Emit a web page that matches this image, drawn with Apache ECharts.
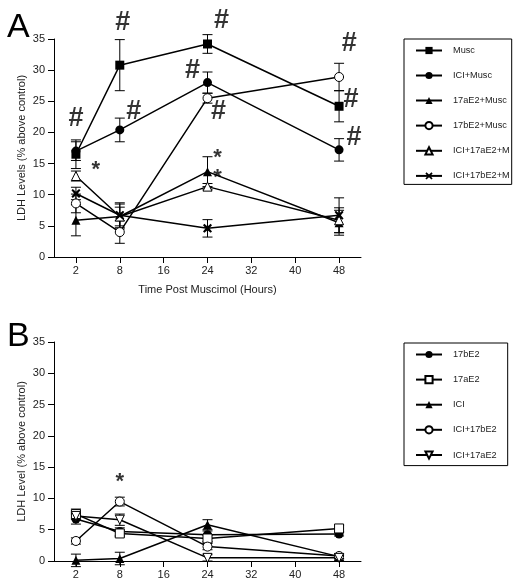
<!DOCTYPE html>
<html><head><meta charset="utf-8">
<script src="https://cdn.jsdelivr.net/npm/echarts@6/dist/echarts.min.js"></script>
<style>html,body{margin:0;padding:0;background:#fff}#c{width:525px;height:588px}</style>
</head><body><div id="c"></div>
<script>
// ---------- DATA ----------
const timeLabels = ['2', '8', '16', '24', '32', '40', '48'];   // x tick labels (evenly spaced)
const timesA = ['2', '8', '24', '48'];                          // sampled times

const namesA = ['Musc', 'ICI+Musc', '17aE2+Musc', '17bE2+Musc', 'ICI+17aE2+M', 'ICI+17bE2+M'];
const musc        = [16.5, 30.8, 34.2, 24.2];
const muscErr     = [2.3, 4.1, 1.5, 2.5];
const iciMusc     = [17.0, 20.4, 28.0, 17.2];
const iciMuscErr  = [1.5, 1.9, 1.7, 1.8];
const aE2Musc     = [5.9, 6.5, 13.7, 5.5];
const aE2MuscErr  = [2.5, 2.0, 2.4, 2.0];
const bE2Musc     = [8.6, 4.0, 25.5, 28.9];
const bE2MuscErr  = [1.5, 1.8, 0.8, 2.2];
const iciAE2M     = [13.0, 6.5, 11.3, 5.9];
const iciAE2MErr  = [0.8, 1.5, 0.5, 2.0];
const iciBE2M     = [10.2, 6.7, 4.6, 6.7];
const iciBE2MErr  = [1.0, 2.0, 1.4, 2.8];

const namesB = ['17bE2', '17aE2', 'ICI', 'ICI+17bE2', 'ICI+17aE2'];
const bE2      = [6.7, 4.7, 4.2, 4.3];
const bE2Err   = [0.8, 0.6, 0.6, 0.3];
const aE2      = [7.5, 4.4, 3.6, 5.2];
const aE2Err   = [0.8, 0.5, 0.5, 0.5];
const ici      = [0.1, 0.4, 5.8, 0.7];
const iciErr   = [1.0, 1.0, 0.8, 0.4];
const iciBE2   = [3.2, 9.5, 2.3, 0.8];
const iciBE2Err= [0.5, 0.7, 0.5, 0.4];
const iciAE2   = [7.2, 6.6, 0.5, 0.5];
const iciAE2Err= [0.5, 0.9, 0.5, 0.4];

// significance annotations [tick position (0 = "2", 1 = "8", ...), y value, text]
const annotA = [
  [0, 22.3, '#'], [1.07, 37.7, '#'], [3.32, 38, '#'], [1.32, 23.4, '#'],
  [2.66, 30, '#'], [3.25, 23.3, '#'], [6.23, 34.3, '#'], [6.27, 25.2, '#'], [6.34, 19.1, '#'],
  [0.45, 14, '*'], [3.23, 15.9, '*'], [3.23, 12.7, '*']
];
const annotB = [[1, 12.7, '*']];

// ---------- BUILD ----------
const XMARK = 'path://M1.5,0 L5,3 L8.5,0 L10,1.5 L7,5 L10,8.5 L8.5,10 L5,7 L1.5,10 L0,8.5 L3,5 L0,1.5 Z';
const DOWNTRI = 'path://M0,0 L10,0 L5,9 Z';
const font = 'Arial, "Liberation Sans", sans-serif';

function pts(xs, ys) { return xs.map((x, i) => [x, ys[i]]); }
function errPts(xs, ys, es) { return xs.map((x, i) => [x, ys[i], es[i]]); }

function renderErr(params, api) {
  const x = api.value(0), y = api.value(1), e = api.value(2);
  const t = api.coord([x, y + e]), b = api.coord([x, y - e]);
  const w = 5, st = { stroke: '#000', lineWidth: 1 };
  return { type: 'group', children: [
    { type: 'line', shape: { x1: t[0], y1: t[1], x2: b[0], y2: b[1] }, style: st },
    { type: 'line', shape: { x1: t[0] - w, y1: t[1], x2: t[0] + w, y2: t[1] }, style: st },
    { type: 'line', shape: { x1: b[0] - w, y1: b[1], x2: b[0] + w, y2: b[1] }, style: st }
  ]};
}

function lineSeries(name, idx, ys, symbol, filled, size) {
  return {
    type: 'line', name, xAxisIndex: idx, yAxisIndex: idx,
    data: pts(timesA, ys), symbol, symbolSize: size || 9, showAllSymbol: true,
    lineStyle: { color: '#000', width: 1.5 },
    itemStyle: filled ? { color: '#000' } : { color: '#fff', borderColor: '#000', borderWidth: 1 },
    emphasis: { disabled: true }, z: 3
  };
}
function errSeries(idx, ys, es) {
  return { type: 'custom', xAxisIndex: idx, yAxisIndex: idx, renderItem: renderErr,
    data: errPts(timesA, ys, es), encode: { x: 0, y: 1 }, z: 2, silent: true };
}
function annotSeries(xIdx, yIdx, arr, size) {
  return { type: 'scatter', xAxisIndex: xIdx, yAxisIndex: yIdx, symbolSize: 0, clip: false, silent: true,
    data: arr.map(a => ({ value: [a[0], a[1]], name: a[2] })),
    label: { show: true, position: 'inside', formatter: '{b}', color: '#000',
      fontFamily: font, fontWeight: 'bold', fontSize: size },
    z: 5 };
}

const series = [];
const aSets = [
  [musc, muscErr, 'rect', true], [iciMusc, iciMuscErr, 'circle', true],
  [aE2Musc, aE2MuscErr, 'triangle', true], [bE2Musc, bE2MuscErr, 'circle', false],
  [iciAE2M, iciAE2MErr, 'triangle', false], [iciBE2M, iciBE2MErr, XMARK, true]
];
aSets.forEach(s => series.push(errSeries(0, s[0], s[1])));
aSets.forEach((s, i) => series.push(lineSeries(namesA[i], 0, s[0], s[2], s[3])));
const bSets = [
  [bE2, bE2Err, 'circle', true], [aE2, aE2Err, 'rect', false], [ici, iciErr, 'triangle', true],
  [iciBE2, iciBE2Err, 'circle', false], [iciAE2, iciAE2Err, DOWNTRI, false]
];
bSets.forEach(s => series.push(errSeries(1, s[0], s[1])));
bSets.forEach((s, i) => series.push(lineSeries(namesB[i], 1, s[0], s[2], s[3])));

series.push(annotSeries(2, 0, annotA.filter(a => a[2] === '#'), 27));
series.push(annotSeries(2, 0, annotA.filter(a => a[2] === '*'), 22));
series.push(annotSeries(3, 1, annotB, 22));

function xAxis(idx, name) {
  return {
    type: 'category', gridIndex: idx, data: timeLabels, boundaryGap: true,
    name: name, nameLocation: 'middle', nameGap: 27, nameMoveOverlap: false,
    nameTextStyle: { fontSize: 11, color: '#222', fontFamily: font },
    axisLine: { onZero: false, lineStyle: { color: '#000', width: 1 } },
    axisTick: { show: true, length: 6, alignWithLabel: true, interval: 0, lineStyle: { color: '#000' } },
    axisLabel: { interval: 0, fontSize: 11, color: '#222', fontFamily: font, margin: 8 },
    splitLine: { show: false }
  };
}
function hiddenX(idx) {
  return { type: 'value', gridIndex: idx, min: -0.5, max: 6.5, show: false,
    axisLine: { onZero: false } };
}
function yAxis(idx, name) {
  return {
    type: 'value', gridIndex: idx, min: 0, max: 35, interval: 5, name, nameLocation: 'middle', nameGap: 27,
    nameMoveOverlap: false, position: 'left',
    nameTextStyle: { fontSize: 11, color: '#222', fontFamily: font },
    axisLine: { show: true, onZero: false, lineStyle: { color: '#000', width: 1 } },
    axisTick: { show: true, length: 6, lineStyle: { color: '#000' } },
    axisLabel: { fontSize: 11, color: '#222', fontFamily: font, margin: 9 },
    splitLine: { show: false }
  };
}
function legend(names, top, padR, padB) {
  return {
    orient: 'vertical', left: 404, top, data: names,
    itemWidth: 26, itemHeight: 9, itemGap: 16,
    padding: [7, padR, padB, 11], borderColor: '#000', borderWidth: 1,
    textStyle: { fontSize: 9.2, color: '#222', fontFamily: font, padding: [0, 0, 0, 6] },
    selectedMode: false
  };
}

const chart = echarts.init(document.getElementById('c'), null, { renderer: 'canvas' });
chart.setOption({
  animation: false,
  backgroundColor: '#fff',
  title: [
    { text: 'A', left: 2, top: 6, textStyle: { fontSize: 34, fontWeight: 'normal', color: '#000', fontFamily: font } },
    { text: 'B', left: 2, top: 315, textStyle: { fontSize: 34, fontWeight: 'normal', color: '#000', fontFamily: font } }
  ],
  grid: [
    { left: 54, top: 39, width: 307, height: 218 },
    { left: 54, top: 342, width: 307, height: 219 }
  ],
  xAxis: [xAxis(0, 'Time Post Muscimol (Hours)'), xAxis(1, ''), hiddenX(0), hiddenX(1)],
  yAxis: [yAxis(0, 'LDH Levels (% above control)'), yAxis(1, 'LDH Level (% above control)')],
  legend: [legend(namesA, 39, 2, 4), legend(namesB, 343, 11, 6)],
  series
});
</script></body></html>
